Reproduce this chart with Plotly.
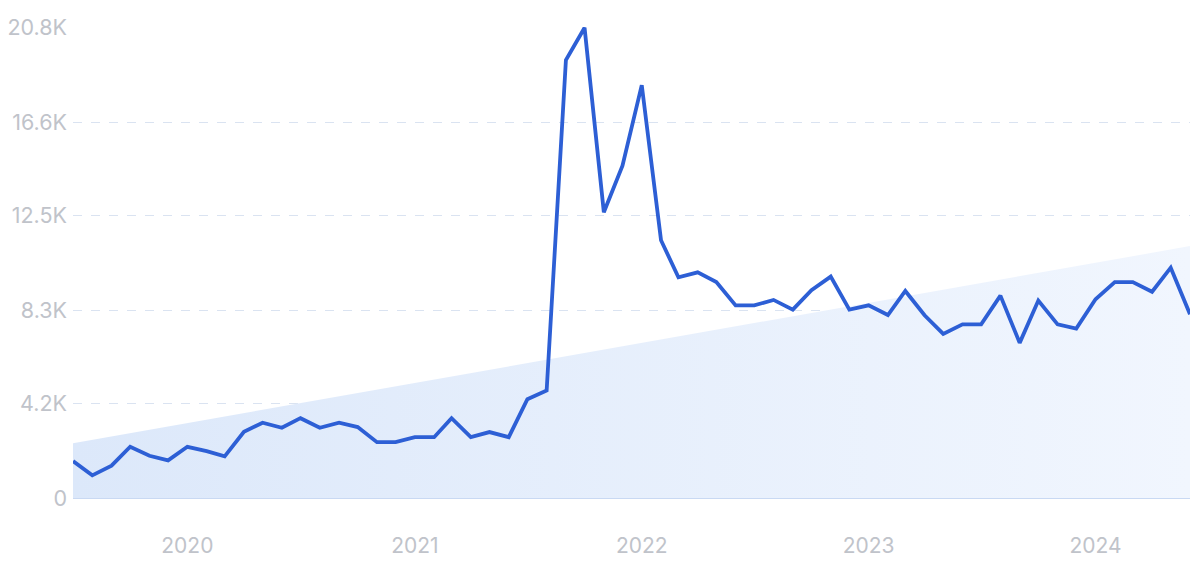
import plotly.graph_objects as go
import pandas as pd

months = pd.date_range("2019-07-01", "2024-06-01", freq="MS").strftime("%Y-%m-%d").tolist()

values = [
    1630, 1000, 1430, 2265, 1870, 1665,            # Jul-Dec 2019
    2265, 2075, 1840, 2930, 3330, 3105,            # Jan-Jun 2020
    3530, 3105, 3330, 3135, 2470, 2470,            # Jul-Dec 2020
    2690, 2690, 3530, 2690, 2915, 2690,            # Jan-Jun 2021
    4370, 4750, 19370, 20800, 12640, 14700,        # Jul-Dec 2021
    18260, 11400, 9760, 9980, 9550, 8520,          # Jan-Jun 2022
    8520, 8760, 8330, 9190, 9790, 8330,            # Jul-Dec 2022
    8520, 8090, 9155, 8080, 7255, 7680,            # Jan-Jun 2023
    7680, 8950, 6860, 8730, 7680, 7490,            # Jul-Dec 2023
    8790, 9550, 9550, 9120, 10185, 8125,           # Jan-Jun 2024
]

trend_x = [months[0], months[-1]]
trend_y = [2420, 11140]

tick_vals = [0, 4200, 8300, 12500, 16600, 20800]
tick_text = ["0", "4.2K", "8.3K", "12.5K", "16.6K", "20.8K"]
year_ticks = ["2020-01-01", "2021-01-01", "2022-01-01", "2023-01-01", "2024-01-01"]
year_text = ["2020", "2021", "2022", "2023", "2024"]

fig = go.Figure()

fig.add_trace(go.Scatter(
    x=trend_x, y=trend_y, mode="lines",
    line=dict(width=0, color="rgba(0,0,0,0)"),
    fill="tozeroy",
    fillgradient=dict(
        type="horizontal",
        colorscale=[[0, "#dce8fa"], [1, "#f1f6fe"]],
    ),
    hoverinfo="skip", showlegend=False,
))

fig.add_trace(go.Scatter(
    x=months, y=values, mode="lines",
    line=dict(color="#2d5fd5", width=3.8),
    showlegend=False, cliponaxis=False,
))

font_family = "Inter, Lato, sans-serif"
fig.update_layout(
    width=1192, height=556,
    margin=dict(l=65, r=10, t=19, b=66),
    paper_bgcolor="white", plot_bgcolor="white",
    font=dict(family=font_family, color="#b9bdc5", size=21),
    xaxis=dict(
        range=[months[0], months[-1]],
        tickvals=year_ticks, ticktext=year_text,
        showgrid=False, zeroline=False, automargin=False,
        showline=False, ticks="", ticklabelstandoff=33,
        tickfont=dict(size=21, color="#c0c3ca"),
    ),
    yaxis=dict(
        range=[0, 20830], automargin=False,
        tickvals=tick_vals, ticktext=tick_text,
        showgrid=True, gridcolor="#dae3f1", griddash="dash", gridwidth=1,
        zeroline=True, zerolinecolor="#c9d9f3", zerolinewidth=1.5,
        ticks="", ticklabelstandoff=5,
        tickfont=dict(size=21.5, color="#c0c3ca"),
    ),
)

fig.write_html("out.html")
